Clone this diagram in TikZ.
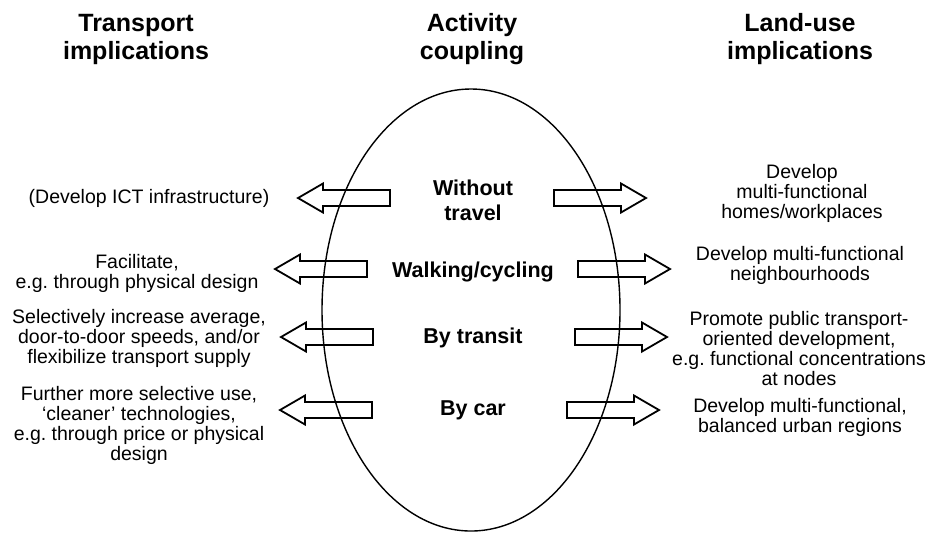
\documentclass[tikz,border=0pt]{standalone}
\usepackage{fontspec}
\setmainfont{Liberation Sans}
\usetikzlibrary{shapes.geometric}
\frenchspacing

\begin{document}
\begin{tikzpicture}[x=0.5pt, y=-0.5pt,
  heading/.style={font=\fontsize{12.5}{14}\selectfont\bfseries, align=center, inner sep=0pt},
  mode/.style={font=\fontsize{10.75}{12.5}\selectfont\bfseries, align=center, inner sep=0pt},
  note/.style={font=\fontsize{9.75}{10}\selectfont, align=center, inner sep=0pt},
  fatarrow/.pic={\draw[line width=0.9pt, line join=miter] (0,8) -- (67,8) -- (67,14.5) -- (92,0) -- (67,-14.5) -- (67,-8) -- (0,-8) -- cycle;}
]
  \useasboundingbox (0,0) rectangle (929,532);

  % column headings
  \node[heading] (transH) at (136,39) {Transport\\implications};
  \node[heading] (actH) at (472,39) {Activity\\coupling};
  \node[heading] (landH) at (800,39) {Land-use\\implications};

  % the coupling ellipse
  \node[draw, ellipse, line width=0.7pt, minimum width=149pt, minimum height=221pt, inner sep=0pt] (coupling) at (471,310) {};

  % modes of coupling
  \node[mode] (without) at (473,200) {Without\\travel};
  \node[mode] (walking) at (473,272) {Walking/cycling};
  \node[mode] (transit) at (473,338) {By transit};
  \node[mode] (car) at (473,410) {By car};

  % transport side
  \node[note] (ictL) at (149,198) {(Develop ICT infrastructure)};
  \node[note] (facL) at (137,273) {Facilitate,\\e.g. through physical design};
  \node[note] (selL) at (139,338) {Selectively increase average,\\door-to-door speeds, and/or\\flexibilize transport supply};
  \node[note] (furL) at (139,425) {Further more selective use,\\`cleaner' technologies,\\e.g. through price or physical\\design};

  % land-use side
  \node[note] (homesR) at (802,193) {Develop\\multi-functional\\homes/workplaces};
  \node[note] (neighR) at (800,265) {Develop multi-functional\\neighbourhoods};
  \node[note] (promR) at (799,349) {Promote public transport-\\oriented development,\\e.g. functional concentrations\\at nodes};
  \node[note] (regR) at (800,417) {Develop multi-functional,\\balanced urban regions};

  % block arrows
  \pic[xscale=-1] at (390,198) {fatarrow};
  \pic at (554,198) {fatarrow};
  \pic[xscale=-1] at (367,269) {fatarrow};
  \pic at (578,269) {fatarrow};
  \pic[xscale=-1] at (373,337) {fatarrow};
  \pic at (575,337) {fatarrow};
  \pic[xscale=-1] at (372,410) {fatarrow};
  \pic at (567,410) {fatarrow};
\end{tikzpicture}
\end{document}
